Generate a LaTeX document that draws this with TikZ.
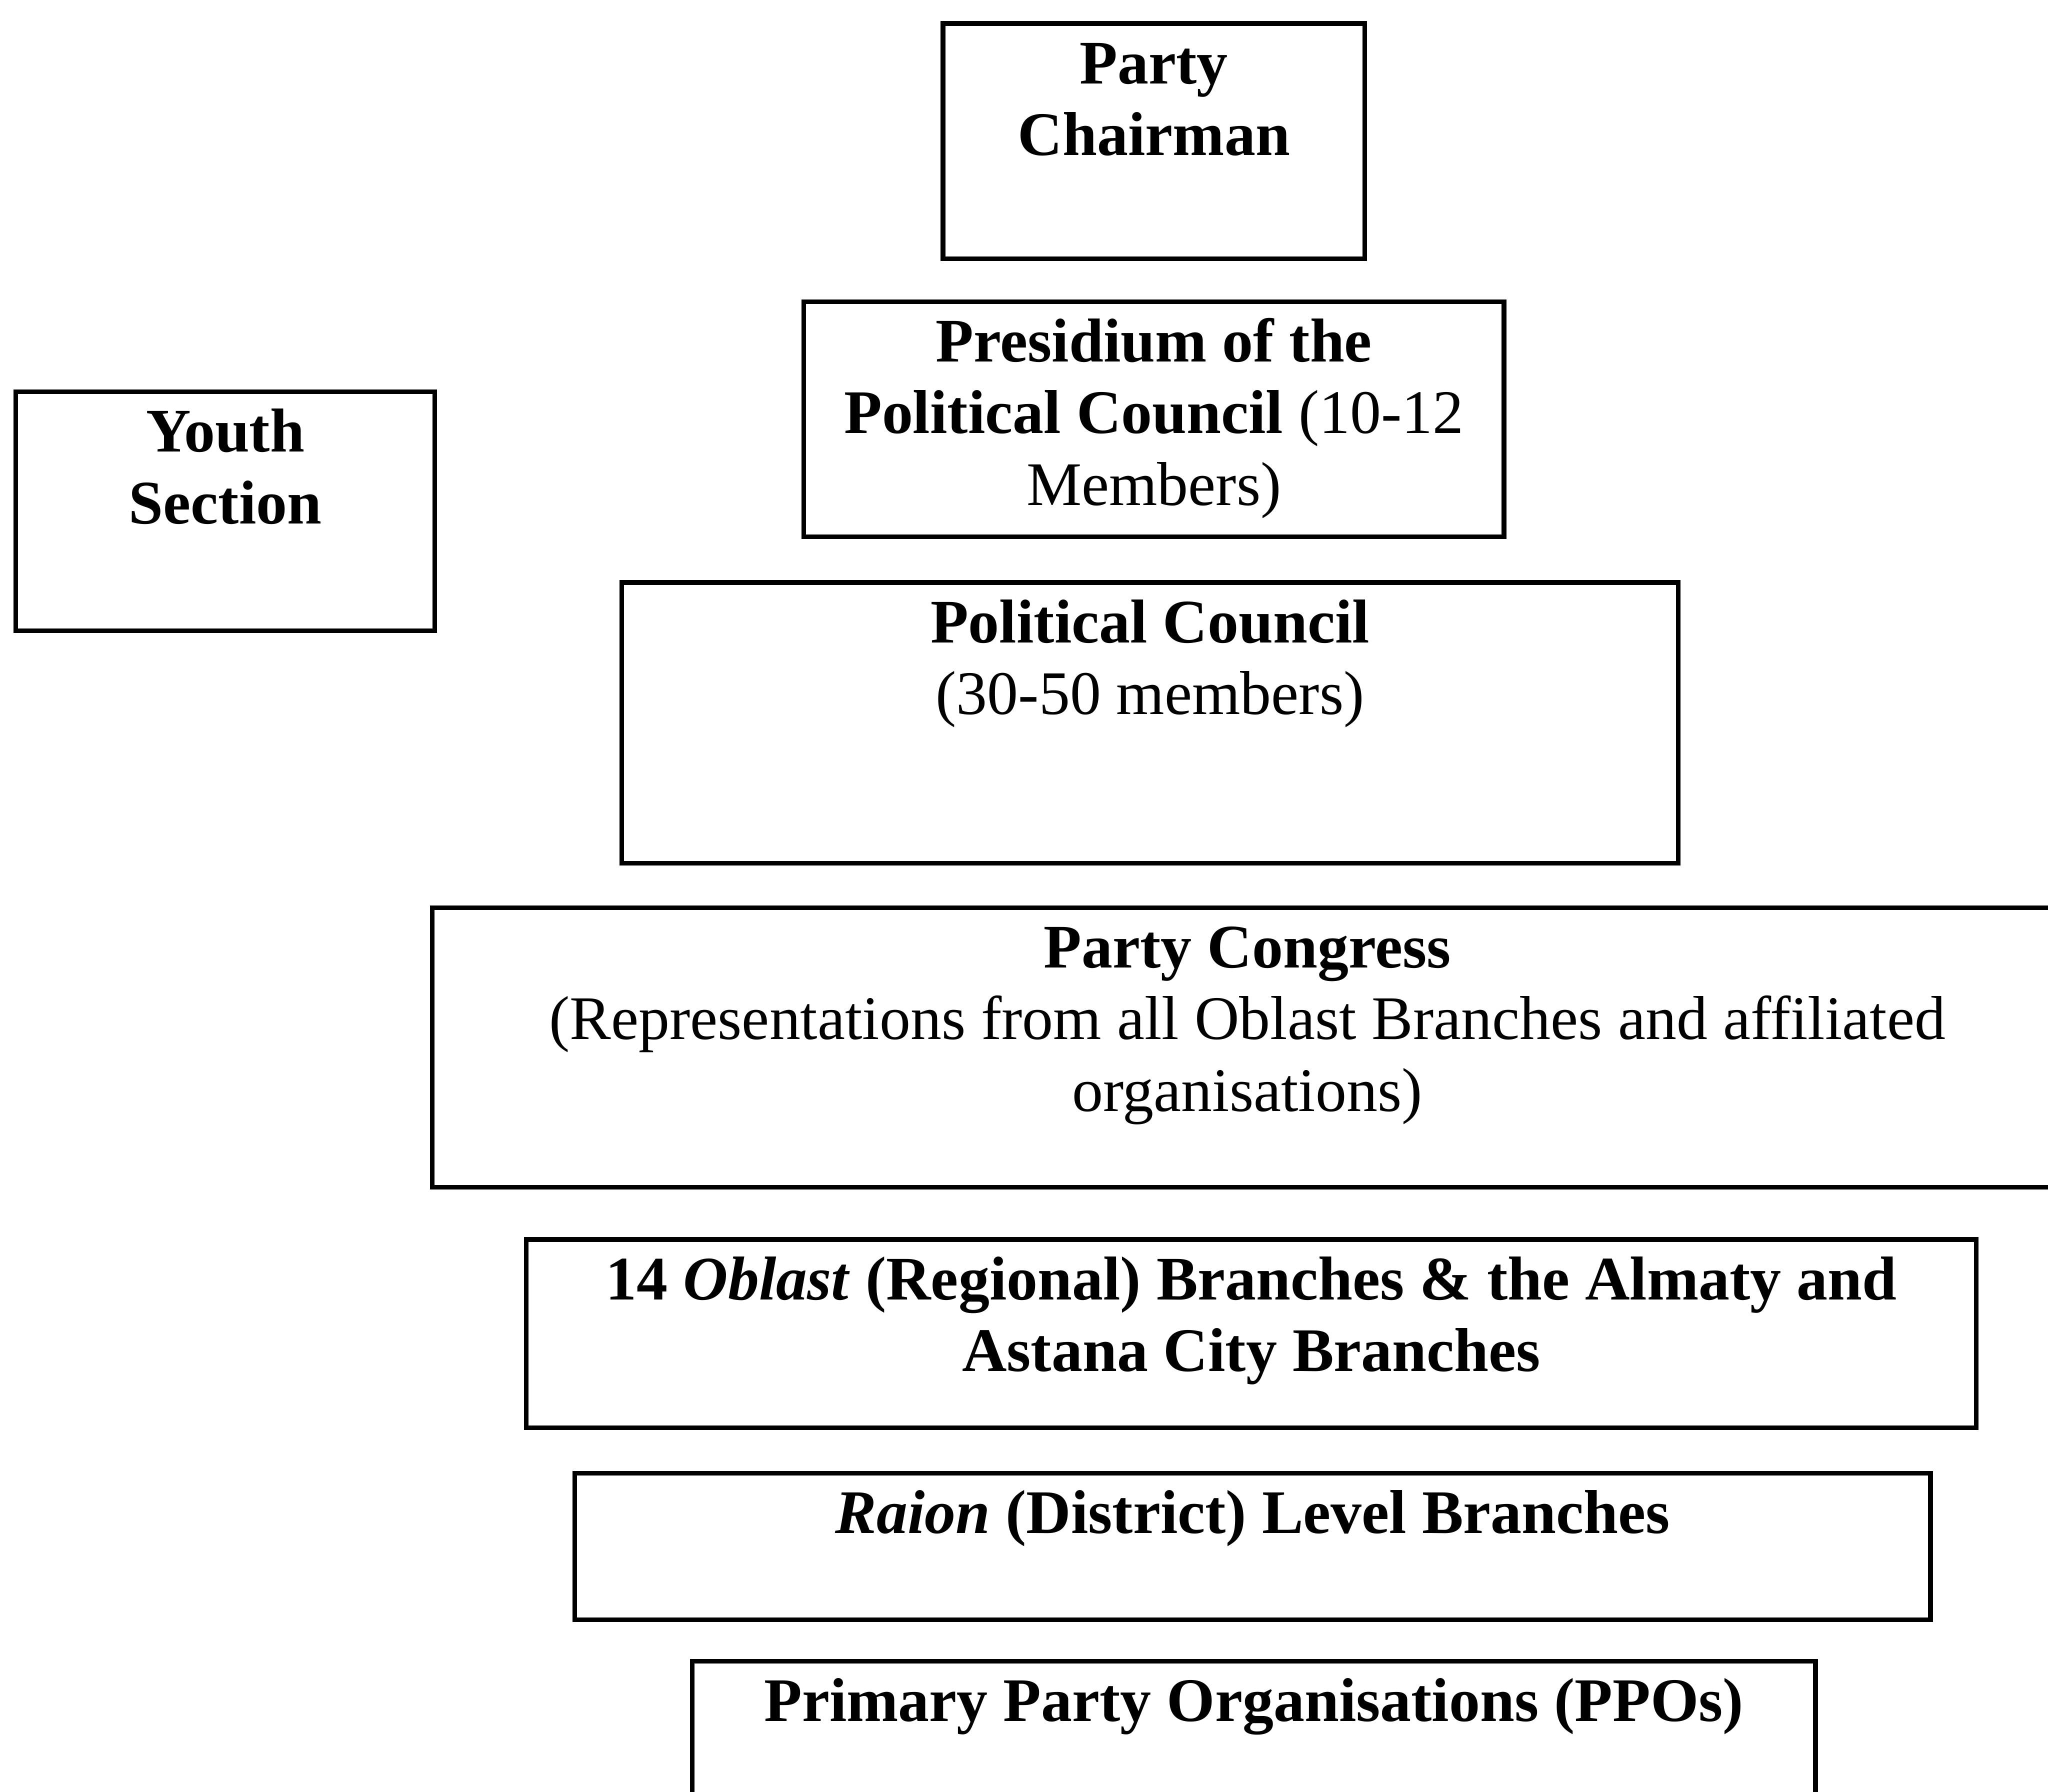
\documentclass[tikz,border=0pt]{standalone}
\usepackage{fontspec}
\setmainfont{Liberation Serif}
\usetikzlibrary{positioning}
\tikzset{
    %Define style for boxes
    organ/.style={
           rectangle,
           draw=black, line width=1pt,
           inner sep=0pt, outer sep=0pt,
           text height=0.46cm,
           font=\fontsize{13.5}{15.6}\selectfont,
           align=flush center,
           anchor=north}
}

\begin{document}
\begin{tikzpicture}[node distance=0.34cm]
\useasboundingbox (0,0) rectangle (15.68,-13.72);
\clip (0,0) rectangle (15.68,-13.72);
\node[organ, text width=3.23cm, text depth=1.34cm] (chair) at (8.835,-0.18) {\textbf{Party}\\\textbf{Chairman}};
\node[organ, below=0.33cm of chair, text width=5.36cm, text depth=1.34cm] (presidium) {\textbf{Presidium of the}\\\textbf{Political Council} (10-12\\Members)};
\node[organ, text width=3.21cm, text depth=1.37cm] (youth) at (1.725,-3.00) {\textbf{Youth}\\\textbf{Section}};
\node[organ, below=0.35cm of presidium, xshift=-0.03cm, text width=8.09cm, text depth=1.69cm] (council) {\textbf{Political Council}\\(30-50 members)};
\node[organ, below=0.34cm of council, xshift=0.745cm, text width=12.48cm, text depth=1.68cm] (congress) {\textbf{Party Congress}\\(Representations from all Oblast Branches and affiliated\\organisations)};
\node[organ, below=0.40cm of congress, xshift=0.03cm, text width=11.10cm, text depth=0.98cm] (oblast) {\textbf{14 \textit{Oblast} (Regional) Branches \& the Almaty and}\\\textbf{Astana City Branches}};
\node[organ, below=0.35cm of oblast, xshift=0.01cm, text width=10.38cm, text depth=0.66cm] (raion) {\textbf{\textit{Raion} (District) Level Branches}};
\node[organ, below=0.32cm of raion, xshift=0.01cm, text width=8.60cm, text depth=1.04cm] (ppo) {\textbf{Primary Party Organisations (PPOs)}};
\end{tikzpicture}
\end{document}
